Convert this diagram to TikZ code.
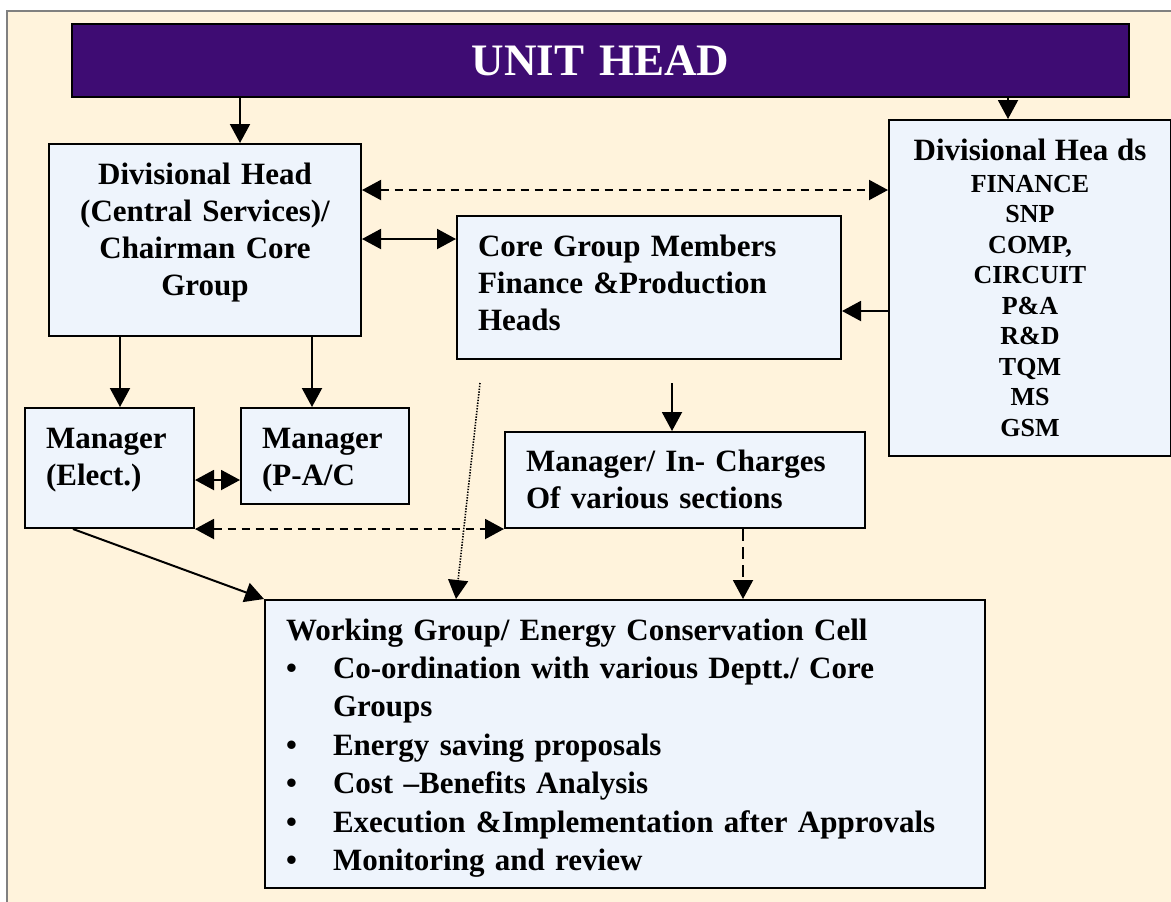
\documentclass[tikz,border=0pt]{standalone}
\usepackage{fontspec}
\setmainfont{Liberation Serif}
\usetikzlibrary{arrows.meta}

\definecolor{pagecream}{HTML}{FFF3DC}
\definecolor{boxblue}{HTML}{EEF4FC}
\definecolor{headviolet}{HTML}{3E0C73}
\newcommand{\wgbullet}{\makebox[23.5pt][l]{\textbullet}}

\tikzset{
  every box/.style={draw, fill=boxblue, line width=1pt, anchor=north west,
    inner xsep=10.5pt, inner ysep=0pt, align=left,
    font=\bfseries\fontsize{15.5}{18.5}\selectfont},
  head box/.style={draw, fill=headviolet, text=white, line width=1pt,
    anchor=north west, inner sep=0pt, align=center,
    font=\bfseries\fontsize{22.5}{26}\selectfont},
  link/.style={line width=1pt},
  dashlink/.style={line width=1pt, dash pattern=on 4pt off 3pt},
}

\begin{document}
\begin{tikzpicture}[x=0.5pt, y=-0.5pt, >={Triangle[length=9.5pt,width=10pt]}]

\useasboundingbox (0,0) rectangle (1171,901);
\path [fill=pagecream, draw=gray, line width=0.8pt] (7,11) rectangle (1190,920);

\node [head box, text width=528.5pt, text height=25.5pt, text depth=11pt]
  (unit) at (71,23) {UNIT HEAD};

\node [every box, align=center, text width=135pt, text height=20pt, text depth=76pt]
  (divhead) at (48,143)
  {Divisional Head\\(Central Services)/\\Chairman Core\\Group};

\node [every box, text width=171pt, text height=20pt, text depth=51.5pt]
  (core) at (456,215)
  {Core Group Members\\Finance \&Production\\Heads};

\node [every box, align=center, inner xsep=0pt, text width=141pt, text height=20pt, text depth=148pt,
  font=\bfseries\fontsize{13}{15.25}\selectfont]
  (divheads) at (888,119)
  {{\fontsize{15.5}{18.5}\selectfont Divisional Hea ds\\[0.75pt]}
   FINANCE\\SNP\\COMP,\\CIRCUIT\\P\&A\\R\&D\\TQM\\MS\\GSM};

\node [every box, text width=63.5pt, text height=20pt, text depth=40pt]
  (melect) at (24,407) {Manager\\(Elect.)};

\node [every box, text width=63pt, text height=20pt, text depth=28pt]
  (mpac) at (240,407) {Manager\\(P-A/C};

\node [every box, text width=159pt, text height=19.5pt, text depth=28.5pt]
  (mcharge) at (504,431) {Manager/ In- Charges\\Of various sections};

\node [every box, text width=339pt, text height=20pt, text depth=124pt,
  font=\bfseries\fontsize{15.5}{19.2}\selectfont]
  (wgroup) at (264,599)
  {Working Group/ Energy Conservation Cell\\
   \wgbullet Co-ordination with various Deptt./ Core\\
   \hspace*{23.5pt}Groups\\
   \wgbullet Energy saving proposals\\
   \wgbullet Cost --Benefits Analysis\\
   \wgbullet Execution \&Implementation after Approvals\\
   \wgbullet Monitoring and review};

\coordinate (coreout) at (672,383);
\coordinate (dotstart) at (480,383);

\foreach \x/\a/\b in {240/unit/divhead, 1008/unit/divheads,
                      120/divhead/melect, 312/divhead/mpac}
  \draw [link, ->] (\x,0 |- \a.south) -- (\x,0 |- \b.north);

\draw [dashlink, <->] (divhead.east |- 0,190) -- (divheads.west |- 0,190);
\draw [link, <->] (divhead.east |- 0,239) -- (core.west |- 0,239);
\draw [link, ->] (divheads.west |- 0,311) -- (core.east |- 0,311);
\draw [link, <->] (melect.east |- 0,480) -- (mpac.west |- 0,480);
\draw [dashlink, <->] (melect.south east) -- (mcharge.south west);
\draw [link, ->] (coreout) -- (coreout |- mcharge.north);
\draw [link, ->] (73,0 |- melect.south) -- (wgroup.north west);
\draw [line width=0.8pt, dash pattern=on 0.7pt off 0.7pt, ->] (dotstart) -- (456,0 |- wgroup.north);
\draw [line width=1pt, dash pattern=on 6pt off 3pt, ->] (743,0 |- mcharge.south) -- (743,0 |- wgroup.north);

\end{tikzpicture}
\end{document}
